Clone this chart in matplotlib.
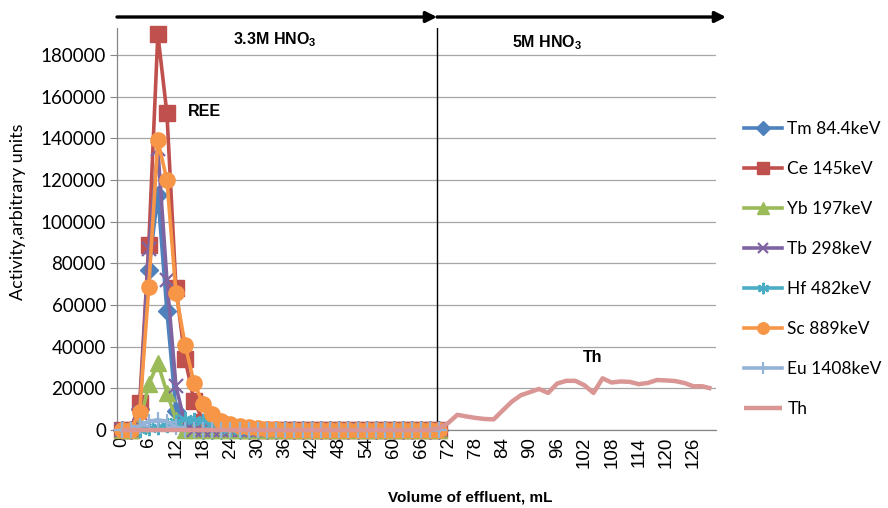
import matplotlib
matplotlib.use("Agg")
import matplotlib.pyplot as plt
from matplotlib.patches import FancyArrowPatch

plt.rcParams["mathtext.fontset"] = "custom"
plt.rcParams["mathtext.rm"] = "Liberation Sans:bold"
plt.rcParams["mathtext.bf"] = "Liberation Sans:bold"

# Effluent volume categories (mL), one fraction every 2 mL
volume_ml = list(range(0, 131, 2))
ree_volume_ml = volume_ml[:36]          # 0 ... 70 mL eluted with 3.3M HNO3
tick_labels = [str(v) for v in range(0, 127, 6)]

# Activities of the REE fractions (0 ... 70 mL)
tm_84 = [0, 0, 10000, 77000, 113000, 57000, 9000, 1500, 500, 0, 0, 0,
         0, 0, 0, 0, 0, 0, 0, 0, 0, 0, 0, 0, 0, 0, 0, 0, 0, 0, 0, 0, 0, 0, 0, 0]
ce_145 = [0, 0, 13000, 89000, 190000, 152000, 68000, 34000, 14000, 4000, 1500, 800,
          500, 300, 0, 0, 0, 0, 0, 0, 0, 0, 0, 0, 0, 0, 0, 0, 0, 0, 0, 0, 0, 0, 0, 0]
yb_197 = [0, 0, 3000, 22000, 32000, 18000, 5000, 0, 0, 0, 0, 0,
          0, 0, 0, 0, 0, 0, 0, 0, 0, 0, 0, 0, 0, 0, 0, 0, 0, 0, 0, 0, 0, 0, 0, 0]
tb_298 = [0, 0, 8000, 87000, 135000, 72000, 21000, 3000, 0, 0, 0, 0,
          0, 0, 0, 0, 0, 0, 0, 0, 0, 0, 0, 0, 0, 0, 0, 0, 0, 0, 0, 0, 0, 0, 0, 0]
hf_482 = [0, 0, 0, 1000, 1500, 2500, 4000, 5500, 5000, 4500, 3000, 1500,
          500, 0, 0, 0, 0, 0, 0, 0, 0, 0, 0, 0, 0, 0, 0, 0, 0, 0, 0, 0, 0, 0, 0, 0]
sc_889 = [0, 0, 8600, 68600, 139000, 120000, 65700, 40800, 22500, 12500, 7500, 4500,
          3000, 2000, 1300, 800, 500, 300, 0, 0, 0, 0, 0, 0, 0, 0, 0, 0, 0, 0, 0, 0, 0, 0, 0, 0]
eu_1408 = [0, 0, 2000, 4000, 5000, 4000, 1500, 0, 0, 0, 0, 0,
           0, 0, 0, 0, 0, 0, 0, 0, 0, 0, 0, 0, 0, 0, 0, 0, 0, 0, 0, 0, 0, 0, 0, 0]

# Thorium over the whole run (0 ... 130 mL)
th = [0, 0, 0, 0, 0, 0, 0, 0, 0, 0, 0, 0, 0, 0, 0, 0, 0, 0,
      0, 0, 0, 0, 0, 0, 0, 0, 0, 0, 0, 0, 0, 0, 0, 0, 0,
      1000, 3400, 7300, 6500, 5800, 5300, 5100, 9400, 13600, 16700, 18200,
      19700, 17800, 22300, 23600, 23600, 21500, 17800, 24800, 22800, 23300,
      23100, 22000, 22600, 24000, 23800, 23500, 22600, 21000, 21000, 19900]

series = [
    ("Tm 84.4keV", tm_84, "#4F81BD", dict(marker="D", ms=9.5)),
    ("Ce 145keV", ce_145, "#C0504D", dict(marker="s", ms=11)),
    ("Yb 197keV", yb_197, "#9BBB59", dict(marker="^", ms=12)),
    ("Tb 298keV", tb_298, "#8064A2", dict(marker="x", ms=10, mew=1.6)),
    ("Hf 482keV", hf_482, "#4BACC6", dict(marker=(6, 2, 0), ms=11, mew=1.6)),
    ("Sc 889keV", sc_889, "#F79646", dict(marker="o", ms=11)),
    ("Eu 1408keV", eu_1408, "#95B3D7", dict(marker="+", ms=11, mew=1.6)),
]

W, H = 888, 508
fig = plt.figure(figsize=(W / 100, H / 100), dpi=100)


def fx(px):
    return px / W


def fy(py):
    return 1 - py / H


ax = fig.add_axes([fx(117), fy(430), fx(716) - fx(117), fy(28) - fy(430)])

for name, vals, color, mk in series:
    ax.plot(ree_volume_ml, vals, color=color, lw=2.6, label=name,
            clip_on=False, zorder=3, **mk)
ax.plot(volume_ml, th, color="#D99694", lw=3.2, label="Th",
        clip_on=False, zorder=3, solid_capstyle="butt")

ax.set_xlim(-1, 131)
ax.set_ylim(0, 193000)
ax.set_yticks(range(0, 180001, 20000))
ax.set_yticklabels([str(v) for v in range(0, 180001, 20000)],
                   fontfamily="Lato", fontsize=13.5)
ax.set_xticks(range(0, 127, 6))
ax.set_xticklabels(tick_labels, rotation=90, fontfamily="Liberation Sans",
                   fontsize=13.5)
ax.tick_params(axis="x", length=0, pad=5)
ax.tick_params(axis="y", length=5, color="#868686", pad=3)
ax.grid(axis="y", color="#a6a6a6", lw=0.9)
ax.set_axisbelow(True)
for s in ("top", "right"):
    ax.spines[s].set_visible(False)
for s in ("left", "bottom"):
    ax.spines[s].set_color("#868686")
    ax.spines[s].set_linewidth(0.9)

# boundary between the two eluent steps
ax.plot([69.5, 69.5], [0, 1], color="black", lw=1.0,
        transform=ax.get_xaxis_transform(), zorder=2)

# eluent arrows above the plot
for x0, x1 in ((117, 437), (437, 726)):
    fig.add_artist(FancyArrowPatch((fx(x0), fy(17)), (fx(x1), fy(17)),
                                   transform=fig.transFigure,
                                   arrowstyle="-|>", mutation_scale=16,
                                   lw=2.4, color="black",
                                   shrinkA=0, shrinkB=0))

fig.text(fx(275), fy(40), r"3.3M HNO$_{3}$", ha="center", va="center",
         fontfamily="Liberation Sans", fontweight="bold", fontsize=11.5)
fig.text(fx(547), fy(43), r"5M HNO$_{3}$", ha="center", va="center",
         fontfamily="Liberation Sans", fontweight="bold", fontsize=11.5)
fig.text(fx(204), fy(111), "REE", ha="center", va="center",
         fontfamily="Liberation Sans", fontweight="bold", fontsize=11.5)
fig.text(fx(593), fy(357), "Th", ha="center", va="center",
         fontfamily="Liberation Sans", fontweight="bold", fontsize=11.5)

fig.text(fx(18), fy(212), "Activity,arbitrary units", rotation=90,
         ha="center", va="center", fontfamily="Lato", fontsize=13)
fig.text(fx(470), fy(497), "Volume of effluent, mL", ha="center", va="center",
         fontfamily="Liberation Sans", fontweight="bold", fontsize=11)

leg = fig.legend(loc="upper left", bbox_to_anchor=(fx(744), fy(121)),
                 bbox_transform=fig.transFigure, frameon=False,
                 prop=dict(family="Lato", size=12.5), markerscale=0.75,
                 handlelength=2.2, handletextpad=0.3, labelspacing=1.38,
                 borderaxespad=0, borderpad=0)

fig.savefig("out.png", dpi=100)
